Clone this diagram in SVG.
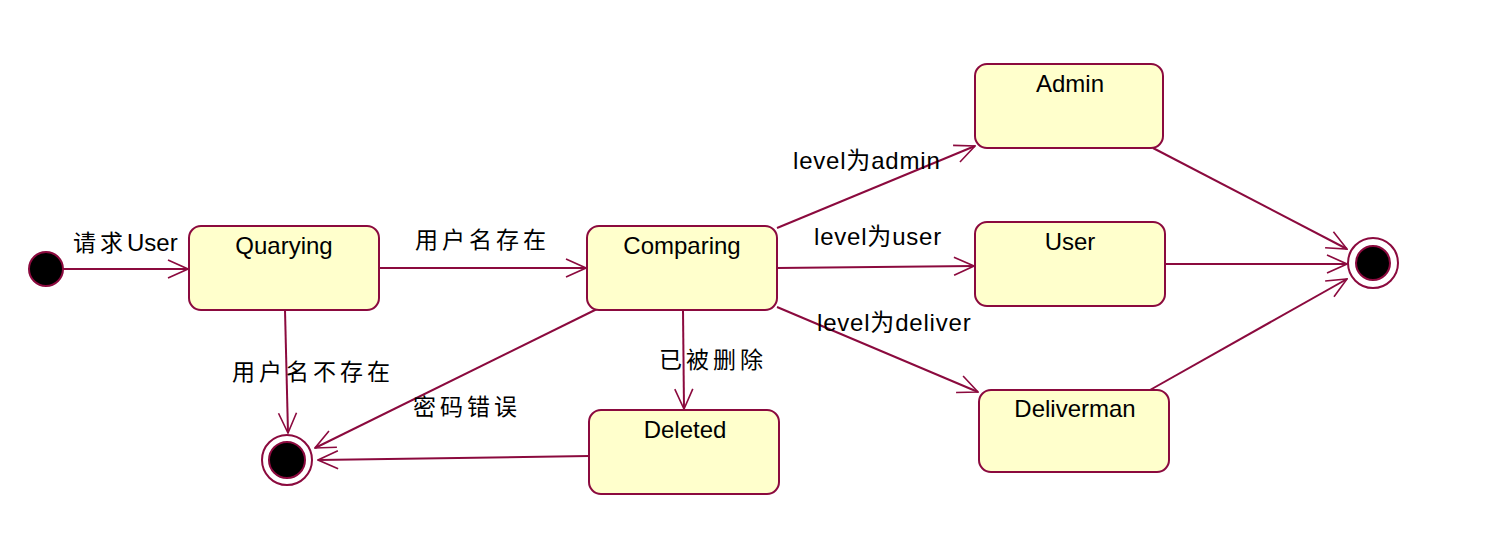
<svg xmlns="http://www.w3.org/2000/svg" width="1485" height="537" viewBox="0 0 1485 537">
<style>
.st{fill:#FFFFCC;stroke:#8B0A3E;stroke-width:2}
.nm{font-family:"Liberation Sans","Noto Sans CJK SC",sans-serif;font-size:24px;fill:#000;text-anchor:middle}
.lb{font-family:"Liberation Sans","Noto Sans CJK SC",sans-serif;font-size:23px;fill:#000}
.cj{letter-spacing:4px}
.lv{font-size:24px;letter-spacing:0.8px}
.cn{fill:none;stroke:#8B0A3E;stroke-width:2;marker-end:url(#arr)}
</style>
<defs>
<marker id="arr" markerUnits="userSpaceOnUse" markerWidth="24" markerHeight="22" viewBox="-23 -11 24 22" refX="0" refY="0" orient="auto">
<path d="M-20,-9 L0,0 L-20,9" fill="none" stroke="#8B0A3E" stroke-width="1.6"/>
</marker>
</defs>
<rect width="1485" height="537" fill="#fff"/>
<g id="connectors">
<path class="cn" d="M63,269 L188,269"/>
<path class="cn" d="M379,268 L586,268"/>
<path class="cn" d="M285,310 L288,433"/>
<path class="cn" d="M597,309 L315,448"/>
<path class="cn" d="M589,456 L318,460"/>
<path class="cn" d="M683,310 L684,409"/>
<path class="cn" d="M777,228 L975,146"/>
<path class="cn" d="M777,268 L974,266"/>
<path class="cn" d="M777,307 L978,392"/>
<path class="cn" d="M1153,148 L1347,249"/>
<path class="cn" d="M1165,264 L1347,264"/>
<path class="cn" d="M1150,390 L1347,279"/>
<text class="lb" x="73" y="251"><tspan class="cj" letter-spacing="6">请求</tspan><tspan font-size="24">User</tspan></text>
<text class="lb cj" x="415" y="248">用户名存在</text>
<text class="lb cj" x="232" y="380">用户名不存在</text>
<text class="lb cj" x="413" y="415">密码错误</text>
<text class="lb cj" x="659" y="368">已被删除</text>
<text class="lb lv" x="793" y="169">level为admin</text>
<text class="lb lv" x="814" y="245">level为user</text>
<text class="lb lv" x="817" y="331">level为deliver</text>
</g>
<g id="initial">
<circle cx="46" cy="269" r="17" fill="#000" stroke="#8B0A3E" stroke-width="2"/>
</g>
<g id="quarying">
<rect class="st" x="189" y="226" width="190" height="84" rx="12"/>
<text class="nm" x="284" y="254">Quarying</text>
</g>
<g id="comparing">
<rect class="st" x="587" y="226" width="190" height="84" rx="12"/>
<text class="nm" x="682" y="254">Comparing</text>
</g>
<g id="deleted">
<rect class="st" x="589" y="410" width="190" height="84" rx="12"/>
<text class="nm" x="685" y="438">Deleted</text>
</g>
<g id="admin">
<rect class="st" x="975" y="64" width="188" height="84" rx="12"/>
<text class="nm" x="1070" y="92">Admin</text>
</g>
<g id="user">
<rect class="st" x="975" y="222" width="190" height="84" rx="12"/>
<text class="nm" x="1070" y="250">User</text>
</g>
<g id="deliverman">
<rect class="st" x="979" y="390" width="190" height="82" rx="12"/>
<text class="nm" x="1075" y="417">Deliverman</text>
</g>
<g id="final1">
<circle cx="287" cy="460" r="25" fill="#fff" stroke="#8B0A3E" stroke-width="2"/>
<circle cx="287" cy="460" r="18" fill="#000" stroke="#8B0A3E" stroke-width="2"/>
</g>
<g id="final2">
<circle cx="1373" cy="263" r="25" fill="#fff" stroke="#8B0A3E" stroke-width="2"/>
<circle cx="1373" cy="263" r="17" fill="#000" stroke="#8B0A3E" stroke-width="2"/>
</g>
</svg>
